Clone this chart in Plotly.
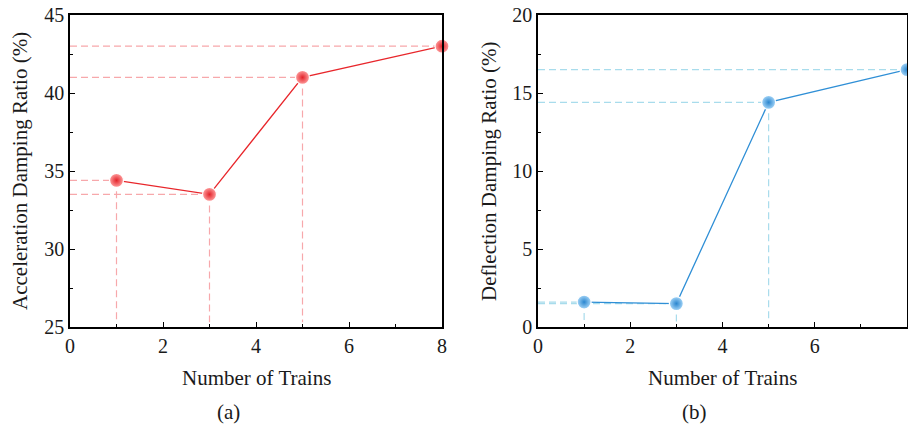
import plotly.graph_objects as go

trains = [1, 3, 5, 8]
accel_ratio = [34.4, 33.5, 41.0, 43.0]
defl_ratio = [1.6, 1.5, 14.4, 16.5]
x_ticks = [0, 2, 4, 6, 8]

FONT = "Liberation Serif"
W, H = 908, 432

def px_x(p): return p / W
def px_y(p): return 1 - p / H

fig = go.Figure()

panels = [
    dict(xa="x", ya="y", vals=accel_ratio, line="#e8262b", edge="#e3232a", center="#ffa0a0",
         guide="#f7a8ab", yr=[25, 45], ytitle="Acceleration Damping Ratio (%)"),
    dict(xa="x2", ya="y2", vals=defl_ratio, line="#2f8fd6", edge="#2a86cf", center="#a6d6f8",
         guide="#a8dcec", yr=[0, 20], ytitle="Deflection Damping Ratio (%)"),
]

for p in panels:
    ymin = p["yr"][0]
    for xv, yv in zip(trains, p["vals"]):
        fig.add_trace(go.Scatter(x=[0, xv], y=[yv, yv], mode="lines", xaxis=p["xa"], yaxis=p["ya"],
                                 line=dict(color=p["guide"], width=1.2, dash="7px,4px"),
                                 showlegend=False, hoverinfo="skip"))
    for xv, yv in zip(trains[:-1], p["vals"][:-1]):
        fig.add_trace(go.Scatter(x=[xv, xv], y=[yv, ymin + (p["yr"][1] - ymin) * 0.015], mode="lines",
                                 xaxis=p["xa"], yaxis=p["ya"],
                                 line=dict(color=p["guide"], width=1.2, dash="7px,4px"),
                                 showlegend=False, hoverinfo="skip"))
    fig.add_trace(go.Scatter(x=trains, y=p["vals"], mode="lines+markers", xaxis=p["xa"], yaxis=p["ya"],
                             line=dict(color=p["line"], width=1.3),
                             marker=dict(size=14, color=p["center"],
                                         gradient=dict(type="radial", color=p["edge"]),
                                         line=dict(color="white", width=1.2)),
                             cliponaxis=False, showlegend=False))

axis_common = dict(showline=True, linecolor="black", linewidth=1.5, mirror=True,
                   ticks="inside", ticklen=5, tickwidth=1.2, tickcolor="black",
                   showgrid=False, zeroline=False, automargin=False,
                   tickfont=dict(family=FONT, size=20, color="#1a1a1a"))

fig.update_layout(
    width=W, height=H, margin=dict(l=0, r=0, t=0, b=0, autoexpand=False),
    paper_bgcolor="white", plot_bgcolor="white",
    xaxis=dict(domain=[px_x(70), px_x(442)], range=[0, 8], tickvals=x_ticks,
               minor=dict(ticks="inside", ticklen=3, tickcolor="black", dtick=1, tick0=0), **axis_common),
    yaxis=dict(domain=[px_y(327), px_y(15)], range=[25, 45], dtick=5,
               minor=dict(ticks="inside", ticklen=3, tickcolor="black", dtick=2.5, tick0=25), **axis_common),
    xaxis2=dict(domain=[px_x(538), px_x(907)], range=[0, 8], tickvals=x_ticks, anchor="y2",
                minor=dict(ticks="inside", ticklen=3, tickcolor="black", dtick=1, tick0=0), **axis_common),
    yaxis2=dict(domain=[px_y(327), px_y(15)], range=[0, 20], dtick=5, anchor="x2",
                minor=dict(ticks="inside", ticklen=3, tickcolor="black", dtick=2.5, tick0=0), **axis_common),
)

ann_font = dict(family=FONT, size=21, color="#1a1a1a")
anns = [
    dict(text="Number of Trains", x=px_x(256), y=px_y(378)),
    dict(text="Number of Trains", x=px_x(722), y=px_y(378)),
    dict(text="(a)", x=px_x(228), y=px_y(412)),
    dict(text="(b)", x=px_x(694), y=px_y(412)),
    dict(text=panels[0]["ytitle"], x=px_x(20), y=px_y(171), textangle=-90),
    dict(text=panels[1]["ytitle"], x=px_x(489), y=px_y(171), textangle=-90),
]
for a in anns:
    fig.add_annotation(xref="paper", yref="paper", showarrow=False, font=ann_font,
                       xanchor="center", yanchor="middle", **a)

fig.write_html("out.html", config={"displayModeBar": False},
               post_script="document.body.style.margin='0';document.body.style.overflow='hidden';")
